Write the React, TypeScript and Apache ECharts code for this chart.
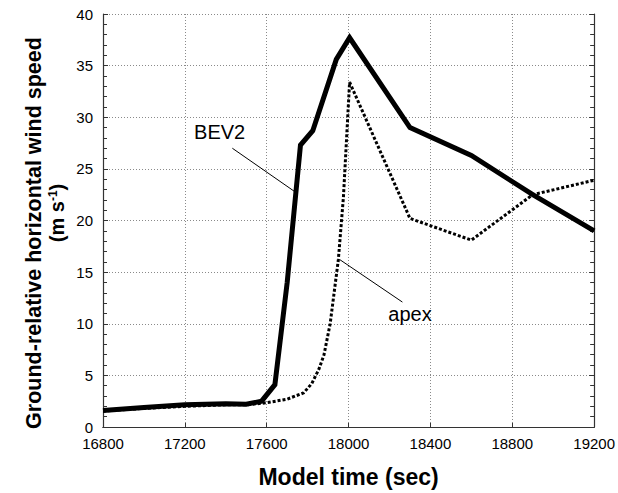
import React, { useEffect, useRef } from "react";
import * as echarts from "echarts";

// Data
const bevTime = [16800, 17000, 17200, 17400, 17500, 17575, 17640, 17700, 17765, 17825, 17940, 18005, 18300, 18600, 18900, 19200];
const bevSpeed = [1.6, 1.9, 2.15, 2.25, 2.2, 2.5, 4.1, 14.0, 27.3, 28.7, 35.6, 37.7, 29.0, 26.3, 22.5, 19.0];

const apexTime = [16800, 17000, 17200, 17400, 17500, 17600, 17700, 17780, 17820, 17855, 17880, 17910, 17950, 17975, 18005, 18300, 18600, 18900, 19200];
const apexSpeed = [1.55, 1.8, 2.0, 2.15, 2.15, 2.35, 2.7, 3.3, 4.2, 5.6, 7.0, 10.0, 16.2, 22.3, 33.4, 20.2, 18.1, 22.5, 23.9];

const xTicks = { min: 16800, max: 19200, interval: 400 };
const yTicks = { min: 0, max: 40, interval: 5 };

const bevLabel = { text: "BEV2", at: [17370, 28.6], leader: [[17432, 27.0], [17744, 22.7]] };
const apexLabel = { text: "apex", at: [18300, 10.9], leader: [[18263, 12.1], [17958, 16.2]] };

const FONT = "Liberation Sans, Arial, Helvetica, sans-serif";

export default function App() {
  const ref = useRef<HTMLDivElement>(null);
  useEffect(() => {
    if (!ref.current) return;
    const chart = echarts.init(ref.current, undefined, { renderer: "svg" });
    const gridLine = { show: true, lineStyle: { color: "#8a8a8a", width: 1, type: [1, 2] } };
    const axisLine = { show: true, lineStyle: { color: "#333", width: 1.2 } };
    const mkLeader = (l: number[][]) => ({
      symbol: ["none", "none"],
      silent: true,
      label: { show: false },
      lineStyle: { color: "#000", width: 1, type: "solid" },
      data: [[{ coord: l[0] }, { coord: l[1] }]],
    });
    const mkLabel = (t: string, at: number[]) => ({
      symbol: "circle",
      symbolSize: 0,
      silent: true,
      label: { show: true, position: "inside", formatter: t, fontSize: 20, color: "#000", fontFamily: FONT },
      data: [{ coord: at }],
    });
    const plain = (v: number) => String(v);
    chart.setOption({
      animation: false,
      textStyle: { fontFamily: FONT },
      grid: { left: 103, right: 22, top: 14, bottom: 60 },
      xAxis: [
        {
          type: "value",
          min: xTicks.min,
          max: xTicks.max,
          interval: xTicks.interval,
          position: "bottom",
          axisLine,
          axisTick: { show: true, inside: true, length: 4, lineStyle: { color: "#333" } },
          splitLine: gridLine,
          axisLabel: { fontSize: 15, color: "#000", margin: 9, fontFamily: FONT, formatter: plain },
          name: "Model time (sec)",
          nameLocation: "middle",
          nameGap: 38,
          nameTextStyle: { fontSize: 23, fontWeight: "bold", color: "#000", fontFamily: FONT },
        },
        {
          type: "value",
          min: xTicks.min,
          max: xTicks.max,
          interval: xTicks.interval,
          position: "top",
          axisLine,
          axisTick: { show: false },
          splitLine: { show: false },
          axisLabel: { show: false },
        },
      ],
      yAxis: [
        {
          type: "value",
          min: yTicks.min,
          max: yTicks.max,
          interval: yTicks.interval,
          position: "left",
          axisLine,
          axisTick: { show: true, inside: true, length: 5, lineStyle: { color: "#333" } },
          minorTick: { show: true, splitNumber: 5, length: 4, lineStyle: { color: "#333" } },
          splitLine: gridLine,
          axisLabel: { fontSize: 15, color: "#000", margin: 10, fontFamily: FONT, formatter: plain },
        },
        {
          type: "value",
          min: yTicks.min,
          max: yTicks.max,
          interval: yTicks.interval,
          position: "right",
          axisLine,
          axisTick: { show: true, inside: true, length: 5, lineStyle: { color: "#333" } },
          minorTick: { show: true, splitNumber: 5, length: 4, lineStyle: { color: "#333" } },
          splitLine: { show: false },
          axisLabel: { show: false },
        },
      ],
      graphic: [
        {
          type: "text",
          x: 34,
          y: 233,
          rotation: Math.PI / 2,
          style: {
            text: "Ground-relative horizontal wind speed",
            fontSize: 21.5,
            fontWeight: "bold",
            fontFamily: FONT,
            fill: "#000",
            align: "center",
            verticalAlign: "middle",
          },
        },
        {
          type: "text",
          x: 57,
          y: 213,
          rotation: Math.PI / 2,
          style: {
            text: "(m s{sup|-1})",
            fontSize: 20,
            fontWeight: "bold",
            fontFamily: FONT,
            fill: "#000",
            align: "center",
            verticalAlign: "middle",
            rich: {
              sup: { fontSize: 12, fontWeight: "bold", fontFamily: FONT, fill: "#000", verticalAlign: "top", padding: [0, 0, 8, 0] },
            },
          },
        },
      ],
      series: [
        {
          name: "BEV2",
          type: "line",
          data: bevTime.map((t, i) => [t, bevSpeed[i]]),
          showSymbol: false,
          symbol: "none",
          lineStyle: { color: "#000", width: 5, join: "miter" },
          z: 3,
          markLine: mkLeader(bevLabel.leader),
          markPoint: mkLabel(bevLabel.text, bevLabel.at),
        },
        {
          name: "apex",
          type: "line",
          data: apexTime.map((t, i) => [t, apexSpeed[i]]),
          showSymbol: false,
          symbol: "none",
          lineStyle: { color: "#000", width: 3, type: [3, 2] },
          z: 2,
          markLine: mkLeader(apexLabel.leader),
          markPoint: mkLabel(apexLabel.text, apexLabel.at),
        },
      ],
    });
    return () => chart.dispose();
  }, []);
  return <div ref={ref} style={{ position: "fixed", left: 0, top: 0, width: 618, height: 493, background: "#fff" }} />;
}
